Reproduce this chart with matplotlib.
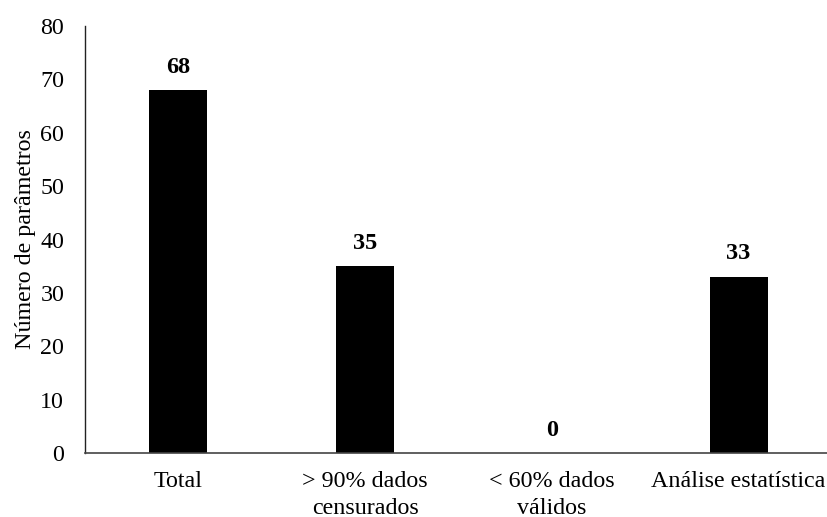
import matplotlib
matplotlib.use("Agg")
import matplotlib.pyplot as plt

categories = ["Total", "> 90% dados\ncensurados", "< 60% dados\nválidos", "Análise estatística"]
values = [68, 35, 0, 33]
yticks = [0, 10, 20, 30, 40, 50, 60, 70, 80]

plt.rcParams["font.family"] = ["Liberation Serif", "DejaVu Serif"]

fig = plt.figure(figsize=(8.28, 5.17), dpi=100)
ax = fig.add_axes([85 / 828, 1 - 453 / 517, (832 - 85) / 828, (453 - 26) / 517])

x = range(len(categories))
ax.bar(x, values, width=0.31, color="black")
for xi, v in zip(x, values):
    ax.annotate(f"{v}", (xi, v), xytext=(0, 9), textcoords="offset points",
                ha="center", va="bottom", fontsize=17.5, fontweight="bold")

ax.set_xlim(-0.5, len(categories) - 0.5)
ax.set_ylim(0, 80)
ax.set_yticks(yticks)
ax.set_xticks(list(x))
ax.set_xticklabels(categories, fontsize=17.3, linespacing=1.4)
ax.tick_params(axis="y", labelsize=17.3, length=0, pad=15)
ax.tick_params(axis="x", length=0, pad=13)
ax.set_ylabel("Número de parâmetros", fontsize=17.3, labelpad=3)

for s in ["top", "right"]:
    ax.spines[s].set_visible(False)
ax.spines["left"].set_color("#222222")
ax.spines["bottom"].set_color("#444444")
ax.spines["left"].set_linewidth(1.0)
ax.spines["bottom"].set_linewidth(1.2)

fig.savefig("out.png", dpi=100)
